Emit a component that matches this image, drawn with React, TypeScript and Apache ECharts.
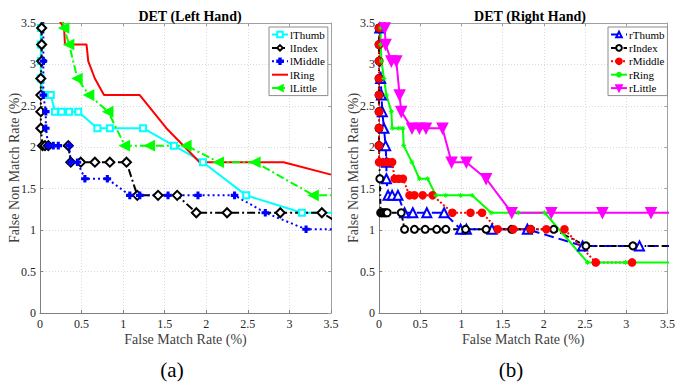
import React, { useEffect, useRef } from "react";
import * as echarts from "echarts";

// ---------- Data ----------
const xTicks = [0, 0.5, 1, 1.5, 2, 2.5, 3, 3.5];
const leftNames = ["lThumb", "lIndex", "lMiddle", "lRing", "lLittle"];
const rightNames = ["rThumb", "rIndex", "rMiddle", "rRing", "rLittle"];

const lThumbX = [0.01, 0.01, 0.01, 0.01, 0.01, 0.04, 0.13, 0.18, 0.26, 0.35, 0.46, 0.69, 0.84, 1.24, 1.61, 1.96, 2.48, 3.15, 3.6];
const lThumbY = [3.64, 3.44, 3.24, 3.04, 2.83, 2.63, 2.63, 2.43, 2.43, 2.43, 2.43, 2.23, 2.23, 2.23, 2.02, 1.82, 1.42, 1.21, 1.21];

const lIndexX = [0.02, 0.02, 0.02, 0.02, 0.01, 0.01, 0.01, 0.01, 0.03, 0.06, 0.1, 0.34, 0.37, 0.49, 0.66, 0.84, 1.04, 1.17, 1.42, 1.65, 1.88, 2.25, 2.89, 3.39, 3.6];
const lIndexY = [3.64, 3.44, 3.24, 3.04, 2.83, 2.63, 2.43, 2.23, 2.02, 2.02, 2.02, 2.02, 1.82, 1.82, 1.82, 1.82, 1.82, 1.42, 1.42, 1.42, 1.21, 1.21, 1.21, 1.21, 1.08];

const lMiddleX = [0.04, 0.04, 0.04, 0.07, 0.07, 0.1, 0.16, 0.22, 0.35, 0.37, 0.45, 0.54, 0.81, 1.08, 1.2, 1.54, 1.9, 2.34, 2.71, 3.2, 3.6];
const lMiddleY = [3.64, 3.04, 2.63, 2.43, 2.23, 2.02, 2.02, 2.02, 2.02, 1.82, 1.82, 1.62, 1.62, 1.42, 1.42, 1.42, 1.42, 1.42, 1.21, 1.01, 1.01];

const lRingX = [0.22, 0.29, 0.3, 0.56, 0.58, 0.66, 0.77, 1.2, 1.52, 1.92, 2.93, 3.5];
const lRingY = [3.55, 3.44, 3.24, 3.24, 3.04, 2.83, 2.63, 2.63, 2.23, 1.82, 1.82, 1.67];

const lLittleX = [0.27, 0.29, 0.35, 0.45, 0.59, 0.82, 1.02, 1.32, 1.76, 2.15, 2.59, 3.29, 3.6];
const lLittleY = [3.55, 3.44, 3.24, 2.83, 2.63, 2.43, 2.02, 2.02, 2.02, 1.82, 1.82, 1.42, 1.42];

const rThumbX = [0.01, 0.01, 0.02, 0.03, 0.04, 0.06, 0.08, 0.09, 0.09, 0.11, 0.16, 0.23, 0.31, 0.41, 0.58, 0.79, 0.99, 1.06, 1.37, 1.8, 2.47, 3.16, 3.6];
const rThumbY = [3.64, 3.44, 2.83, 2.63, 2.43, 2.23, 2.02, 1.82, 1.62, 1.42, 1.42, 1.42, 1.21, 1.21, 1.21, 1.21, 1.01, 1.01, 1.01, 1.01, 0.81, 0.81, 0.81];

const rIndexX = [0.0, 0.0, 0.0, 0.0, 0.0, 0.0, 0.0, 0.0, 0.0, 0.01, 0.02, 0.04, 0.06, 0.08, 0.1, 0.27, 0.31, 0.43, 0.56, 0.7, 0.81, 1.05, 1.3, 1.61, 1.84, 2.12, 2.51, 3.08, 3.6];
const rIndexY = [3.64, 3.44, 3.24, 3.04, 2.83, 2.63, 2.43, 2.23, 2.02, 1.62, 1.21, 1.21, 1.21, 1.21, 1.21, 1.21, 1.01, 1.01, 1.01, 1.01, 1.01, 1.01, 1.01, 1.01, 1.01, 1.01, 0.81, 0.81, 0.81];

const rMiddleX = [0.0, 0.0, 0.0, 0.0, 0.0, 0.0, 0.0, 0.0, 0.0, 0.0, 0.05, 0.11, 0.16, 0.19, 0.24, 0.29, 0.37, 0.43, 0.53, 0.65, 0.89, 1.11, 1.25, 1.44, 1.63, 1.84, 2.03, 2.25, 2.63, 3.07];
const rMiddleY = [3.64, 3.44, 3.24, 3.04, 2.83, 2.63, 2.43, 2.23, 2.02, 1.82, 1.82, 1.82, 1.82, 1.62, 1.62, 1.62, 1.42, 1.42, 1.42, 1.42, 1.21, 1.21, 1.21, 1.01, 1.01, 1.01, 1.01, 1.01, 0.61, 0.61];

const rRingX = [0.02, 0.02, 0.02, 0.03, 0.06, 0.09, 0.15, 0.16, 0.24, 0.29, 0.3, 0.4, 0.49, 0.59, 0.69, 0.81, 0.99, 1.13, 1.36, 1.69, 2.01, 2.53, 2.99, 3.6];
const rRingY = [3.64, 3.44, 3.24, 3.04, 2.83, 2.63, 2.43, 2.23, 2.23, 2.23, 2.02, 1.82, 1.62, 1.62, 1.42, 1.42, 1.42, 1.42, 1.21, 1.21, 1.21, 0.61, 0.61, 0.61];

const rLittleX = [0.06, 0.07, 0.08, 0.15, 0.21, 0.25, 0.27, 0.4, 0.49, 0.57, 0.77, 0.88, 1.06, 1.3, 1.61, 2.09, 2.71, 3.3, 3.6];
const rLittleY = [3.64, 3.44, 3.24, 3.04, 3.04, 2.63, 2.43, 2.23, 2.23, 2.23, 2.23, 1.82, 1.82, 1.62, 1.21, 1.21, 1.21, 1.21, 1.21];

// ---------- Styling helpers ----------
const FONT = "Liberation Serif";
const PLUS = "path://M3,0H5V3H8V5H5V8H3V5H0V3H3Z";
const STAR = "path://M0,5L10,5M5,0L5,10M1.5,1.5L8.5,8.5M8.5,1.5L1.5,8.5";

function pairs(xs: number[], ys: number[]) {
  return xs.map((x, i) => [x, ys[i]]);
}

function mkSeries(
  name: string,
  grid: number,
  xs: number[],
  ys: number[],
  color: string,
  dash: any,
  symbol: string,
  symbolSize: number,
  extra: any = {}
) {
  return {
    name,
    type: "line",
    xAxisIndex: grid,
    yAxisIndex: grid,
    data: pairs(xs, ys),
    symbol,
    symbolSize,
    showAllSymbol: true,
    clip: true,
    lineStyle: { color, width: 2, type: dash },
    itemStyle: { color, borderColor: color, borderWidth: 1.6 },
    emphasis: { disabled: true },
    ...extra,
  };
}

function mainX(grid: number) {
  return {
    gridIndex: grid,
    type: "value",
    min: xTicks[0],
    max: xTicks[xTicks.length - 1],
    interval: 0.5,
    position: "bottom",
    name: "False Match Rate (%)",
    nameLocation: "middle",
    nameGap: 19,
    nameMoveOverlap: false,
    nameTextStyle: { fontFamily: FONT, fontSize: 14, color: "#404040" },
    axisLine: { show: true, onZero: false, lineStyle: { color: "#808080", width: 1 } },
    axisTick: { show: true, inside: true, length: 3, lineStyle: { color: "#808080" } },
    axisLabel: { fontFamily: FONT, fontSize: 12, color: "#262626", margin: 5, showMaxLabel: true, showMinLabel: true },
    splitLine: { show: true, lineStyle: { color: "#d9d9d9", type: [1, 2], width: 1 } },
  };
}

function mainY(grid: number) {
  return {
    gridIndex: grid,
    type: "value",
    min: 0,
    max: 3.5,
    interval: 0.5,
    position: "left",
    name: "False Non Match Rate (%)",
    nameLocation: "middle",
    nameGap: 19,
    nameMoveOverlap: false,
    nameTextStyle: { fontFamily: FONT, fontSize: 14, color: "#404040" },
    axisLine: { show: true, onZero: false, lineStyle: { color: "#808080", width: 1 } },
    axisTick: { show: true, inside: true, length: 3, lineStyle: { color: "#808080" } },
    axisLabel: { fontFamily: FONT, fontSize: 12, color: "#262626", margin: 4, showMaxLabel: true, showMinLabel: true },
    splitLine: { show: true, lineStyle: { color: "#d9d9d9", type: [1, 2], width: 1 } },
  };
}

function boxAxis(grid: number, position: string) {
  return {
    gridIndex: grid,
    type: "value",
    min: 0,
    max: 3.5,
    interval: 0.5,
    position,
    axisLine: { show: true, onZero: false, lineStyle: { color: "#a0a0a0", width: 1 } },
    axisTick: { show: true, inside: true, length: 3, lineStyle: { color: "#a0a0a0" } },
    axisLabel: { show: false },
    splitLine: { show: false },
  };
}

function mkLegend(names: string[], left: number, noMarker: string) {
  return {
    data: names.map((n) => (n === noMarker ? { name: n, itemStyle: { opacity: 0 } } : { name: n })),
    orient: "vertical",
    left,
    top: 27,
    padding: [1, 3, 1, 2],
    itemWidth: 16,
    itemHeight: 7,
    itemGap: 0.4,
    backgroundColor: "#ffffff",
    borderColor: "#8c8c8c",
    borderWidth: 1,
    borderRadius: 0,
    selectedMode: false,
    textStyle: { fontFamily: FONT, fontSize: 11, color: "#000", lineHeight: 13, padding: [0, 0, 0, -3] },
  };
}

export default function App() {
  const ref = useRef<HTMLDivElement>(null);

  useEffect(() => {
    if (!ref.current) return;
    const chart = echarts.init(ref.current, null, { renderer: "svg" });

    const option: any = {
      animation: false,
      backgroundColor: "#ffffff",
      title: [
        {
          text: "DET (Left Hand)",
          left: 185,
          textAlign: "center",
          top: 4,
          textStyle: { fontFamily: FONT, fontSize: 14, fontWeight: "bold", color: "#000" },
        },
        {
          text: "DET (Right Hand)",
          left: 525,
          textAlign: "center",
          top: 4,
          textStyle: { fontFamily: FONT, fontSize: 14, fontWeight: "bold", color: "#000" },
        },
      ],
      grid: [
        { left: 40, top: 23, width: 291, height: 290, containLabel: false },
        { left: 379, top: 23, width: 292, height: 290, containLabel: false },
      ],
      xAxis: [mainX(0), mainX(1), boxAxis(0, "top"), boxAxis(1, "top")],
      yAxis: [mainY(0), mainY(1), boxAxis(0, "right"), boxAxis(1, "right")],
      legend: [mkLegend(leftNames, 269, "lRing"), mkLegend(rightNames, 608, "")],
      series: [
        mkSeries("lThumb", 0, lThumbX, lThumbY, "#00ffff", "solid", "emptyRect", 6),
        mkSeries("lIndex", 0, lIndexX, lIndexY, "#000000", [8, 3, 2, 3], "emptyDiamond", 9, {
          itemStyle: { color: "#000", borderColor: "#000", borderWidth: 2 },
        }),
        mkSeries("lMiddle", 0, lMiddleX, lMiddleY, "#0000ff", [2, 3], PLUS, 6),
        mkSeries("lRing", 0, lRingX, lRingY, "#ff0000", "solid", "none", 0),
        mkSeries("lLittle", 0, lLittleX, lLittleY, "#00ff00", [8, 3, 2, 3], "triangle", 9, { symbolRotate: 90 }),
        mkSeries("rThumb", 1, rThumbX, rThumbY, "#0000ff", [10, 5], "emptyTriangle", 9),
        mkSeries("rIndex", 1, rIndexX, rIndexY, "#000000", [5, 3, 1.5, 3], "emptyCircle", 7, {
          itemStyle: { color: "#000", borderColor: "#000", borderWidth: 2 },
        }),
        mkSeries("rMiddle", 1, rMiddleX, rMiddleY, "#ff0000", [2, 2], "circle", 7),
        mkSeries("rRing", 1, rRingX, rRingY, "#00ff00", "solid", STAR, 5, {
          itemStyle: { color: "#00ff00", borderColor: "#00ff00", borderWidth: 1 },
        }),
        mkSeries("rLittle", 1, rLittleX, rLittleY, "#ff00ff", "solid", "triangle", 10, { symbolRotate: 180 }),
      ],
      graphic: [
        {
          type: "text",
          x: 172,
          y: 370,
          style: {
            text: "(a)",
            fontFamily: FONT,
            fontSize: 21,
            fill: "#000",
            textAlign: "center",
            textVerticalAlign: "middle",
          },
        },
        {
          type: "text",
          x: 511,
          y: 370,
          style: {
            text: "(b)",
            fontFamily: FONT,
            fontSize: 21,
            fill: "#000",
            textAlign: "center",
            textVerticalAlign: "middle",
          },
        },
      ],
    };

    chart.setOption(option);
    return () => chart.dispose();
  }, []);

  return (
    <div
      ref={ref}
      style={{ position: "fixed", left: 0, top: 0, width: 678, height: 385, background: "#fff" }}
    />
  );
}
